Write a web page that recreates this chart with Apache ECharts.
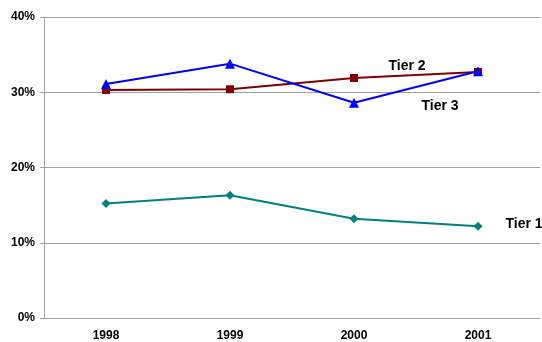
<!DOCTYPE html>
<html><head><meta charset="utf-8">
<script src="https://cdn.jsdelivr.net/npm/echarts@6/dist/echarts.min.js"></script>
<style>html,body{margin:0;padding:0;background:#fff}#c{width:542px;height:342px}</style>
</head><body><div id="c"></div>
<script>
const categories = ['1998','1999','2000','2001'];
const tier1 = [15.2, 16.3, 13.2, 12.2];
const tier2 = [30.3, 30.4, 31.9, 32.7];
const tier3 = [31.1, 33.8, 28.6, 32.8];
const yTicks = [0, 10, 20, 30, 40];

const chart = echarts.init(document.getElementById('c'));
const font = 'Liberation Sans, Arial, sans-serif';
function mkData(arr, labelIdx, text, offset) {
  return arr.map((v, i) => i === labelIdx ? {
    value: v,
    label: { show: true, formatter: text, position: 'inside', offset: offset,
      color: '#000', fontWeight: 'bold', fontSize: 14, fontFamily: font }
  } : v);
}
chart.setOption({
  animation: false,
  backgroundColor: '#fff',
  grid: { left: 44, right: 2, top: 17, bottom: 23 },
  xAxis: {
    type: 'category', data: categories, boundaryGap: true,
    axisLine: { lineStyle: { color: '#a0a0a0', width: 1 } },
    axisTick: { show: false },
    axisLabel: { color: '#000', fontWeight: 'bold', fontSize: 12, fontFamily: font, margin: 12 }
  },
  yAxis: {
    type: 'value', min: yTicks[0], max: yTicks[yTicks.length - 1], interval: 10,
    axisLine: { show: true, lineStyle: { color: '#a0a0a0' } },
    axisTick: { show: true, length: 4, lineStyle: { color: '#a0a0a0' } },
    splitLine: { lineStyle: { color: '#a0a0a0', width: 1 } },
    axisLabel: { formatter: '{value}%', color: '#000', fontWeight: 'bold', fontSize: 12, fontFamily: font, margin: 9 }
  },
  series: [
    { name: 'Tier 1', type: 'line', data: mkData(tier1, 3, 'Tier 1', [46, -2]),
      symbol: 'diamond', symbolSize: 9, itemStyle: { color: '#008080' },
      lineStyle: { color: '#008080', width: 2 } },
    { name: 'Tier 2', type: 'line', data: mkData(tier2, 3, 'Tier 2', [-71, -6]),
      symbol: 'rect', symbolSize: 8, itemStyle: { color: '#800000' },
      lineStyle: { color: '#800000', width: 2 } },
    { name: 'Tier 3', type: 'line', data: mkData(tier3, 2, 'Tier 3', [86, 3]),
      symbol: 'triangle', symbolSize: 10, itemStyle: { color: '#0000ff' },
      lineStyle: { color: '#0000ff', width: 2 } }
  ]
});
</script></body></html>
